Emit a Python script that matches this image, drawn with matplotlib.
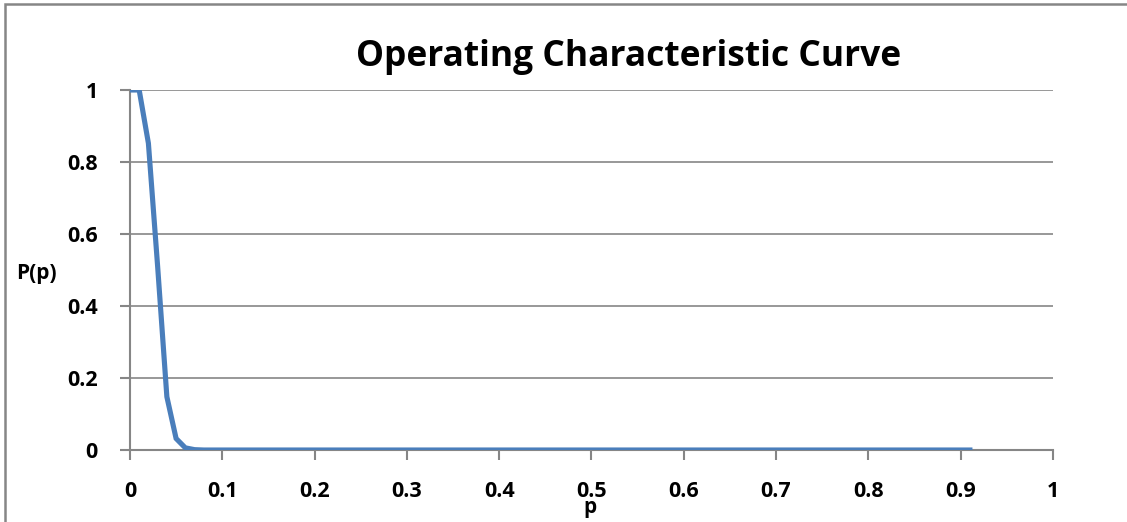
import matplotlib
matplotlib.use("Agg")
from matplotlib import pyplot as plt
from matplotlib.patches import Rectangle

# fraction defective p and probability of acceptance P(p)
p_vals = [0.0, 0.01, 0.02, 0.03, 0.04, 0.05, 0.06, 0.07, 0.08, 0.09, 0.1,
          0.2, 0.3, 0.4, 0.5, 0.6, 0.7, 0.8, 0.9, 0.91]
pa_vals = [1.0, 1.0, 0.852, 0.51, 0.148, 0.032, 0.006, 0.001, 0.0, 0.0, 0.0,
           0.0, 0.0, 0.0, 0.0, 0.0, 0.0, 0.0, 0.0, 0.0]
x_ticks = [0, 0.1, 0.2, 0.3, 0.4, 0.5, 0.6, 0.7, 0.8, 0.9, 1]
x_labels = ["0", "0.1", "0.2", "0.3", "0.4", "0.5", "0.6", "0.7", "0.8", "0.9", "1"]
y_ticks = [0, 0.2, 0.4, 0.6, 0.8, 1]
y_labels = ["0", "0.2", "0.4", "0.6", "0.8", "1"]

plt.rcParams['font.family'] = ['Open Sans', 'DejaVu Sans']
grey = "#868686"

fig = plt.figure(figsize=(11.27, 5.22), dpi=100)
fig.patches.append(Rectangle((0.004, -0.01), 1.5, 1.0015, transform=fig.transFigure,
                             fill=False, edgecolor=grey, linewidth=1.8))
ax = fig.add_axes([0.1153, 0.1379, 0.8190, 0.6897])

ax.plot(p_vals, pa_vals, color="#4A7EBB", linewidth=3.7, solid_joinstyle="miter", zorder=3)

ax.set_xlim(0, 1)
ax.set_ylim(0, 1)
ax.set_xticks(x_ticks)
ax.set_xticklabels(x_labels, fontsize=15.5, fontweight="bold")
ax.set_yticks(y_ticks)
ax.set_yticklabels(y_labels, fontsize=15.5, fontweight="bold")
ax.tick_params(axis="both", colors=grey, labelcolor="black", length=7, width=1.5,
               direction="out")
ax.tick_params(axis="x", pad=15)
ax.tick_params(axis="y", pad=16)
ax.grid(axis="y", color=grey, linewidth=1.2)
ax.set_axisbelow(True)
for s in ["top", "right"]:
    ax.spines[s].set_visible(False)
for s in ["left", "bottom"]:
    ax.spines[s].set_color(grey)
    ax.spines[s].set_linewidth(1.5)

fig.text(629 / 1127, 1 - 66 / 522, "Operating Characteristic Curve", fontsize=25.5,
         fontweight="bold", ha="center", va="baseline")
fig.text(590 / 1127, 1 - 507 / 522, "p", fontsize=15, fontweight="bold",
         ha="center", va="center")
fig.text(36 / 1127, 1 - 273 / 522, "P(p)", fontsize=15, fontweight="bold",
         ha="center", va="center")

fig.savefig("out.png", dpi=100)
